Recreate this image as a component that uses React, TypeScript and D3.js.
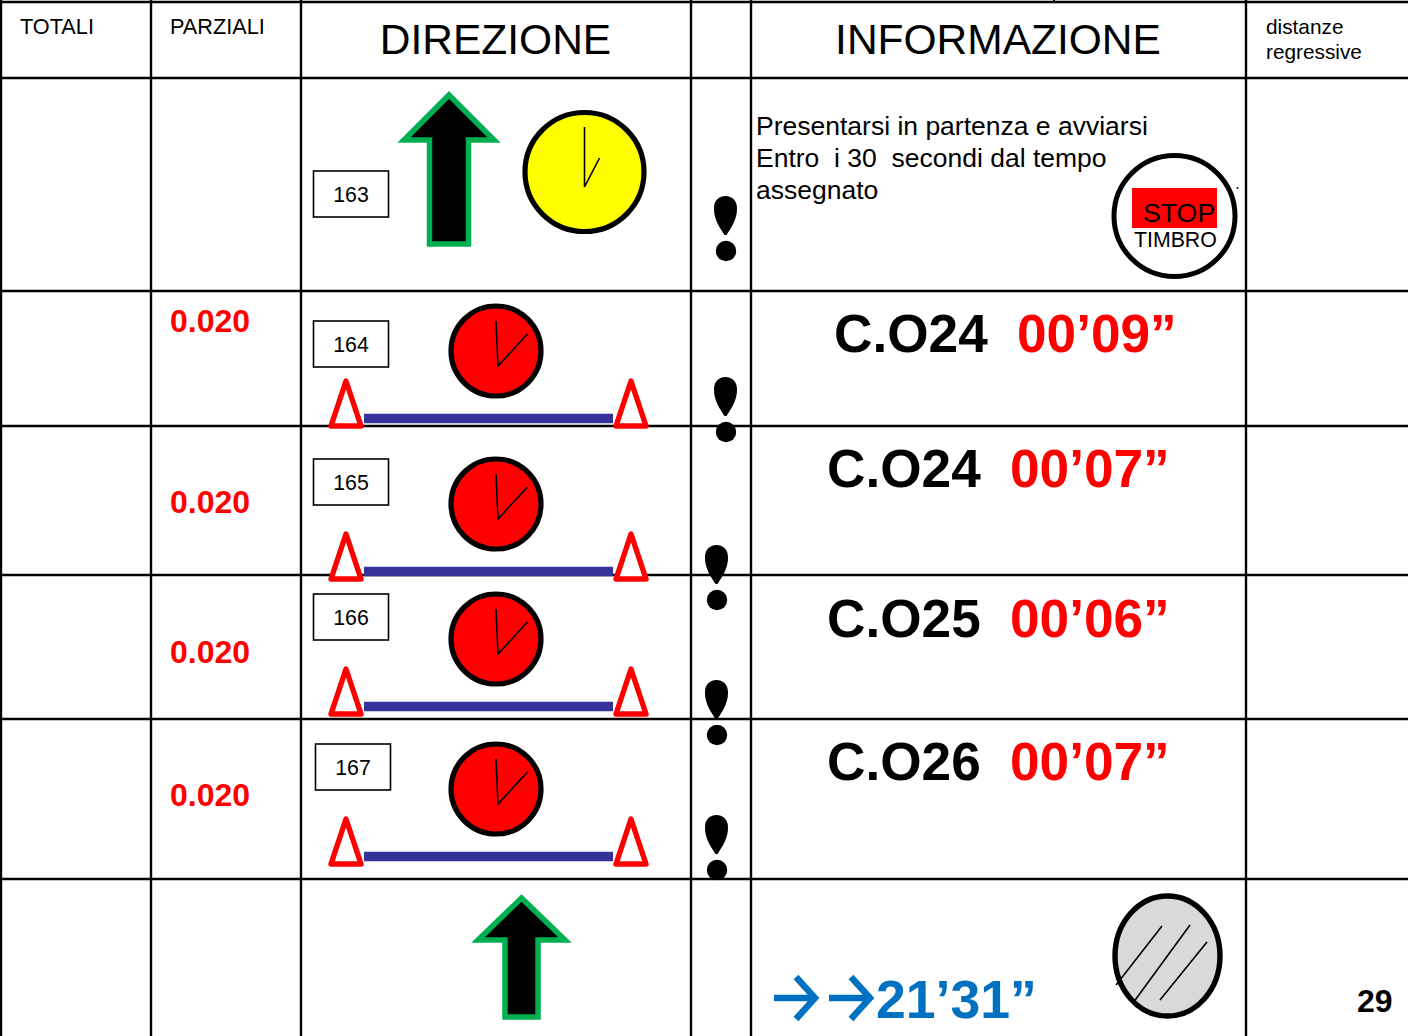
import React from "react";
import * as d3 from "d3";

const headerSmall = ["TOTALI", "PARZIALI"];
const headerLarge = ["DIREZIONE", "INFORMAZIONE"];
const distanceHeader = ["distanze", "regressive"];
const intro = ["Presentarsi in partenza e avviarsi", "Entro  i 30  secondi dal tempo", "assegnato"];
const firstBox = "163";
const partials = ["0.020", "0.020", "0.020", "0.020"];
const boxes = ["164", "165", "166", "167"];
const controls = ["C.O24", "C.O24", "C.O25", "C.O26"];
const times = ["00’09”", "00’07”", "00’06”", "00’07”"];
const total = "21’31”";
const pageNumber = "29";

// layout (separate from the data)
const colX = [1, 151, 301, 691, 751, 1246];
const rowY = [2, 78, 291, 426, 575, 719, 879];
const partialBase = [332, 513, 663, 806];
const boxTop = [321, 459, 594, 744];
const boxLeft = [313.5, 313.5, 313.5, 315.5];
const clockY = [351, 504, 639, 789];
const barY = [418.5, 571.5, 706.5, 856.5];
const ctrlX = [834, 827, 827, 827];
const timeX = [1017, 1010, 1010, 1010];
const ctrlBase = [352, 487, 637, 780];
const bangs: [number, number][] = [[725.5, 196], [725.5, 377], [716.5, 545], [716.5, 680], [716.5, 815]];

const FONT = "'Liberation Sans', Arial, sans-serif";
const poly = d3.line().curve(d3.curveLinearClosed);
const open = d3.line();

function upArrow(cx: number, tip: number, halfHead: number, headDrop: number, halfShaft: number, bottom: number) {
  const s = tip + headDrop;
  return poly([
    [cx, tip], [cx + halfHead, s], [cx + halfShaft, s], [cx + halfShaft, bottom],
    [cx - halfShaft, bottom], [cx - halfShaft, s], [cx - halfHead, s],
  ] as [number, number][])!;
}

function Clock({ cx, cy, r, fill, hub, a, b }: any) {
  return (
    <g>
      <circle cx={cx} cy={cy} r={r} fill={fill} stroke="#000" strokeWidth={5.2} />
      <path d={open([a, hub, b] as [number, number][])!} fill="none" stroke="#000" strokeWidth={1.6} />
    </g>
  );
}

function Bang({ x, y }: { x: number; y: number }) {
  const p = d3.path();
  p.moveTo(x - 1, y + 39);
  p.bezierCurveTo(x - 4, y + 34, x - 12, y + 24, x - 11.5, y + 12);
  p.bezierCurveTo(x - 11.5, y + 4, x - 6, y, x, y);
  p.bezierCurveTo(x + 6, y, x + 11.5, y + 4, x + 11.5, y + 12);
  p.bezierCurveTo(x + 12, y + 24, x + 4, y + 34, x + 1, y + 39);
  p.closePath();
  return (
    <g>
      <path d={p.toString()} fill="#000" />
      <circle cx={x + 0.5} cy={y + 55} r={10.2} fill="#000" />
    </g>
  );
}

function Cone({ x, base }: { x: number; base: number }) {
  return (
    <path
      d={poly([[x, base - 45], [x + 15, base], [x - 15, base]] as [number, number][])!}
      fill="#fff" stroke="#ff0000" strokeWidth={5.4} strokeLinejoin="round"
    />
  );
}

function SmallArrow({ x, y }: { x: number; y: number }) {
  return (
    <path
      d={`${open([[x, y], [x + 40, y]] as [number, number][])} ${open([[x + 22, y - 21], [x + 41, y], [x + 22, y + 21]] as [number, number][])}`}
      fill="none" stroke="#0070c0" strokeWidth={6.5}
    />
  );
}

export default function App() {
  return (
    <svg width={1408} height={1036} viewBox="0 0 1408 1036"
      style={{ position: "absolute", left: 0, top: 0, display: "block", background: "#fff" }}
      fontFamily={FONT}>
      {rowY.map((y) => <line key={y} x1={0} x2={1408} y1={y} y2={y} stroke="#000" strokeWidth={2.4} />)}
      {colX.map((x) => <line key={x} x1={x} x2={x} y1={0} y2={1036} stroke="#000" strokeWidth={2.4} />)}
      <line x1={1054} x2={1054} y1={0} y2={3} stroke="#000" strokeWidth={2} />

      {headerSmall.map((t, i) => <text key={t} x={colX[i] + 19} y={34} fontSize={21.7} fill="#000">{t}</text>)}
      {headerLarge.map((t, i) => (
        <text key={t} x={[495.5, 998][i]} y={53.5} fontSize={42.5} textAnchor="middle" fill="#000">{t}</text>
      ))}
      {distanceHeader.map((t, i) => <text key={t} x={1266} y={34 + i * 25} fontSize={20.8} fill="#000">{t}</text>)}

      <path d={upArrow(449, 95, 45, 45, 19.5, 244)} fill="#000" stroke="#00b050" strokeWidth={5.5} strokeLinejoin="miter" />
      <Clock cx={584.5} cy={172} r={59.5} fill="#ffff00" hub={[584.5, 187]} a={[584.5, 127]} b={[599.5, 158]} />
      <rect x={313.5} y={171} width={75} height={46} fill="#fff" stroke="#000" strokeWidth={1.6} />
      <text x={351} y={202} fontSize={21.3} textAnchor="middle" fill="#000">{firstBox}</text>

      {intro.map((t, i) => <text key={i} x={756} y={135 + i * 32} fontSize={26.5} fill="#000" xmlSpace="preserve" style={{ whiteSpace: "pre" }}>{t}</text>)}
      <circle cx={1174.5} cy={216} r={60.5} fill="#fff" stroke="#000" strokeWidth={5} />
      <rect x={1132} y={188} width={85} height={40} fill="#ff0000" />
      <text x={1143} y={222} fontSize={26.7} fill="#000">STOP</text>
      <text x={1134} y={247} fontSize={21.3} fill="#000">TIMBRO</text>
      <circle cx={1237.5} cy={188} r={1} fill="#000" />

      {boxes.map((b, i) => (
        <g key={b}>
          <text x={170} y={partialBase[i]} fontSize={32} fontWeight="bold" fill="#ff0000">{partials[i]}</text>
          <rect x={boxLeft[i]} y={boxTop[i]} width={75} height={46} fill="#fff" stroke="#000" strokeWidth={1.6} />
          <text x={boxLeft[i] + 37.5} y={boxTop[i] + 31} fontSize={21.3} textAnchor="middle" fill="#000">{b}</text>
          <Clock cx={496} cy={clockY[i]} r={45} fill="#ff0000"
            hub={[498, clockY[i] + 15]} a={[496, clockY[i] - 30]} b={[527.5, clockY[i] - 17]} />
          <line x1={364} x2={613} y1={barY[i]} y2={barY[i]} stroke="#333399" strokeWidth={9.5} />
          <Cone x={346} base={barY[i] + 7.5} />
          <Cone x={631} base={barY[i] + 7.5} />
          <text x={ctrlX[i]} y={ctrlBase[i]} fontSize={53.2} fontWeight="bold" fill="#000">{controls[i]}</text>
          <text x={timeX[i]} y={ctrlBase[i]} fontSize={53.2} fontWeight="bold" fill="#ff0000">{times[i]}</text>
        </g>
      ))}

      {bangs.map(([x, y]) => <Bang key={y} x={x} y={y} />)}

      <path d={upArrow(521.5, 898, 43.5, 42, 16.5, 1017)} fill="#000" stroke="#00b050" strokeWidth={5.5} strokeLinejoin="miter" />
      <SmallArrow x={774} y={998} />
      <SmallArrow x={829} y={998} />
      <text x={876} y={1018} fontSize={53.6} fontWeight="bold" fill="#0070c0">{total}</text>
      <ellipse cx={1167.5} cy={956} rx={52.5} ry={60} fill="#d9d9d9" stroke="#000" strokeWidth={5.4} />
      <path d={[
        open([[1162, 926], [1116, 985]] as [number, number][]),
        open([[1190, 925], [1133, 1003]] as [number, number][]),
        open([[1207, 942], [1160, 1000]] as [number, number][]),
      ].join(" ")} fill="none" stroke="#000" strokeWidth={1.6} />
      <text x={1357} y={1012} fontSize={32} fontWeight="bold" fill="#000">{pageNumber}</text>
    </svg>
  );
}
